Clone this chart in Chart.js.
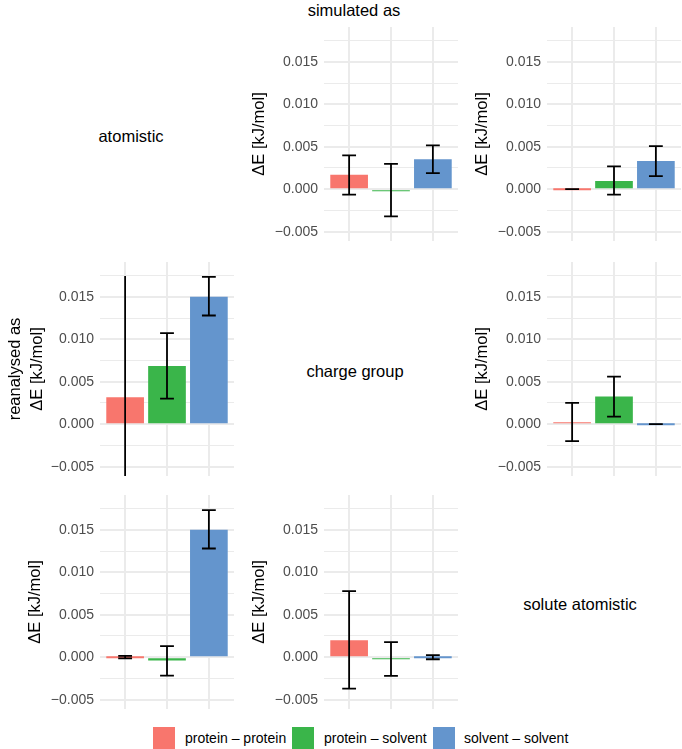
<!DOCTYPE html>
<html lang="en">
<head>
<meta charset="UTF-8">
<script src="https://cdn.jsdelivr.net/npm/chart.js"></script>
<title>simulated as / reanalysed as</title>
<style>
  body { margin: 0; width: 682px; height: 749px; background: #fff; position: relative; overflow: hidden;
         font-family: 'Liberation Sans', Arial, sans-serif; }
  canvas { position: absolute; }
  .lbl { position: absolute; transform: translate(-50%, -50%); font-size: 16.5px; color: #000; white-space: nowrap; }
  .sw { position: absolute; width: 22px; height: 22px; top: 727px; }
  .lg { position: absolute; top: 738px; transform: translateY(-50%); font-size: 14px; color: #000; white-space: nowrap; }
</style>
</head>
<body>

<div class="lbl" style="left:354px; top:10px;">simulated as</div>
<div class="lbl" style="left:131px; top:136px;">atomistic</div>
<div class="lbl" style="left:355px; top:371px;">charge group</div>
<div class="lbl" style="left:580px; top:604px;">solute atomistic</div>

<div id="legend"></div>

<script>
// categories and colours
const categories = ['protein \u2013 protein', 'protein \u2013 solvent', 'solvent \u2013 solvent'];
const barColors = ['#F8766D', '#3AB54A', '#6495CD'];

// y axis
const yTicks = [-0.005, 0, 0.005, 0.010, 0.015];
const yTickLabels = ['\u22120.005', '0.000', '0.005', '0.010', '0.015'];
const yMinorTicks = [-0.0025, 0.0025, 0.0075, 0.0125, 0.0175];

// reanalysed atomistic, simulated charge group
const reAtomSimCgMean = [0.00169, -0.0001, 0.00354];
const reAtomSimCgLow  = [-0.00063, -0.00319, 0.0019];
const reAtomSimCgHigh = [0.00398, 0.00299, 0.00516];

// reanalysed atomistic, simulated solute atomistic
const reAtomSimSaMean = [0, 0.00098, 0.00331];
const reAtomSimSaLow  = [0, -0.00063, 0.00154];
const reAtomSimSaHigh = [0, 0.00268, 0.00508];

// reanalysed charge group, simulated atomistic
const reCgSimAtomMean = [0.00317, 0.00685, 0.0150];
const reCgSimAtomLow  = [-0.0111, 0.00302, 0.0128];
const reCgSimAtomHigh = [0.01745, 0.01073, 0.01735];

// reanalysed charge group, simulated solute atomistic
const reCgSimSaMean = [0.00023, 0.00325, 0];
const reCgSimSaLow  = [-0.002, 0.0009, 0];
const reCgSimSaHigh = [0.0025, 0.0056, 0];

// reanalysed solute atomistic, simulated atomistic
const reSaSimAtomMean = [0, -0.0004, 0.0150];
const reSaSimAtomLow  = [-0.00015, -0.00216, 0.0128];
const reSaSimAtomHigh = [0.00015, 0.0013, 0.01732];

// reanalysed solute atomistic, simulated charge group
const reSaSimCgMean = [0.002, -0.0002, 0];
const reSaSimCgLow  = [-0.00369, -0.0022, -0.00024];
const reSaSimCgHigh = [0.00778, 0.00177, 0.00024];

const yTitle = '\u0394E [kJ/mol]';

const panels = [
  { row: 0, col: 1, mean: reAtomSimCgMean, low: reAtomSimCgLow, high: reAtomSimCgHigh, title: yTitle },
  { row: 0, col: 2, mean: reAtomSimSaMean, low: reAtomSimSaLow, high: reAtomSimSaHigh, title: yTitle },
  { row: 1, col: 0, mean: reCgSimAtomMean, low: reCgSimAtomLow, high: reCgSimAtomHigh, title: ['reanalysed as', yTitle] },
  { row: 1, col: 2, mean: reCgSimSaMean, low: reCgSimSaLow, high: reCgSimSaHigh, title: yTitle },
  { row: 2, col: 0, mean: reSaSimAtomMean, low: reSaSimAtomLow, high: reSaSimAtomHigh, title: yTitle },
  { row: 2, col: 1, mean: reSaSimCgMean, low: reSaSimCgLow, high: reSaSimCgHigh, title: yTitle }
];

// layout
const colLeft = [100, 324, 547];
const rowTop = [27, 262, 495];
const plotW = 134, plotH = 214, axisW = 100;

const same = (a, b) => Math.abs(a - b) < 1e-9;
const isMajor = v => yTicks.some(t => same(t, v));

const errorBars = {
  id: 'errorBars',
  afterDatasetsDraw(chart, args, opts) {
    const { ctx, chartArea, scales: { x, y } } = chart;
    ctx.save();
    ctx.beginPath();
    ctx.rect(chartArea.left, chartArea.top, chartArea.right - chartArea.left, chartArea.bottom - chartArea.top);
    ctx.clip();
    ctx.strokeStyle = '#000';
    ctx.lineWidth = 1.8;
    opts.low.forEach((lo, i) => {
      const hi = opts.high[i];
      const xc = x.getPixelForValue(i + 1);
      const yl = y.getPixelForValue(lo);
      const yh = y.getPixelForValue(hi);
      ctx.beginPath();
      ctx.moveTo(xc, yl);
      ctx.lineTo(xc, yh);
      if (lo >= y.min && hi <= y.max) {
        const x0 = x.getPixelForValue(i + 1 - 0.165);
        const x1 = x.getPixelForValue(i + 1 + 0.165);
        ctx.moveTo(x0, yl); ctx.lineTo(x1, yl);
        ctx.moveTo(x0, yh); ctx.lineTo(x1, yh);
      }
      ctx.stroke();
    });
    ctx.restore();
  }
};

panels.forEach(p => {
  const cv = document.createElement('canvas');
  cv.width = axisW + plotW;
  cv.height = plotH;
  cv.style.left = (colLeft[p.col] - axisW) + 'px';
  cv.style.top = rowTop[p.row] + 'px';
  document.body.appendChild(cv);

  const twoLines = Array.isArray(p.title);

  new Chart(cv.getContext('2d'), {
    type: 'bar',
    data: {
      datasets: [{
        data: p.mean.map((v, i) => ({ x: i + 1, y: v })),
        backgroundColor: barColors,
        borderWidth: 0,
        minBarLength: 2,
        barPercentage: 0.9,
        categoryPercentage: 1.0
      }]
    },
    options: {
      responsive: false,
      animation: false,
      devicePixelRatio: 1,
      layout: { padding: 0 },
      plugins: {
        legend: { display: false },
        tooltip: { enabled: false },
        errorBars: { low: p.low, high: p.high }
      },
      scales: {
        x: {
          type: 'linear',
          min: 0.4,
          max: 3.6,
          offset: false,
          afterBuildTicks: s => { s.ticks = categories.map((c, i) => ({ value: i + 1 })); },
          afterFit: s => { s.height = 0; s.paddingLeft = 0; s.paddingRight = 0; },
          ticks: { display: false },
          grid: { color: '#EBEBEB', lineWidth: 2, drawTicks: false, offset: false },
          border: { display: false }
        },
        y: {
          min: -0.0061,
          max: 0.0191,
          afterBuildTicks: s => {
            s.ticks = yTicks.concat(yMinorTicks).sort((a, b) => a - b).map(v => ({ value: v }));
          },
          afterFit: s => { s.width = axisW; s.paddingTop = 0; s.paddingBottom = 0; },
          ticks: {
            autoSkip: false,
            padding: 6,
            color: '#4D4D4D',
            font: { family: "'Liberation Sans', Arial, sans-serif", size: 14 },
            callback: v => {
              const k = yTicks.findIndex(t => same(t, v));
              return k >= 0 ? yTickLabels[k] : '';
            }
          },
          grid: {
            color: '#EBEBEB',
            drawTicks: false,
            lineWidth: c => (c.tick && isMajor(c.tick.value)) ? 2 : 1
          },
          border: { display: false },
          title: {
            display: true,
            text: p.title,
            color: '#000',
            font: { family: "'Liberation Sans', Arial, sans-serif", size: 16.5, lineHeight: twoLines ? 1.3 : 1.2 },
            padding: { top: twoLines ? 4.8 : 25.6, bottom: 0 }
          }
        }
      }
    },
    plugins: [errorBars]
  });
});

// legend
const swLeft = [153, 292, 433];
const txLeft = [185, 324, 464];
const lg = document.getElementById('legend');
categories.forEach((c, i) => {
  const s = document.createElement('div');
  s.className = 'sw';
  s.style.left = swLeft[i] + 'px';
  s.style.background = barColors[i];
  lg.appendChild(s);
  const t = document.createElement('div');
  t.className = 'lg';
  t.style.left = txLeft[i] + 'px';
  t.textContent = c;
  lg.appendChild(t);
});
</script>
</body>
</html>
